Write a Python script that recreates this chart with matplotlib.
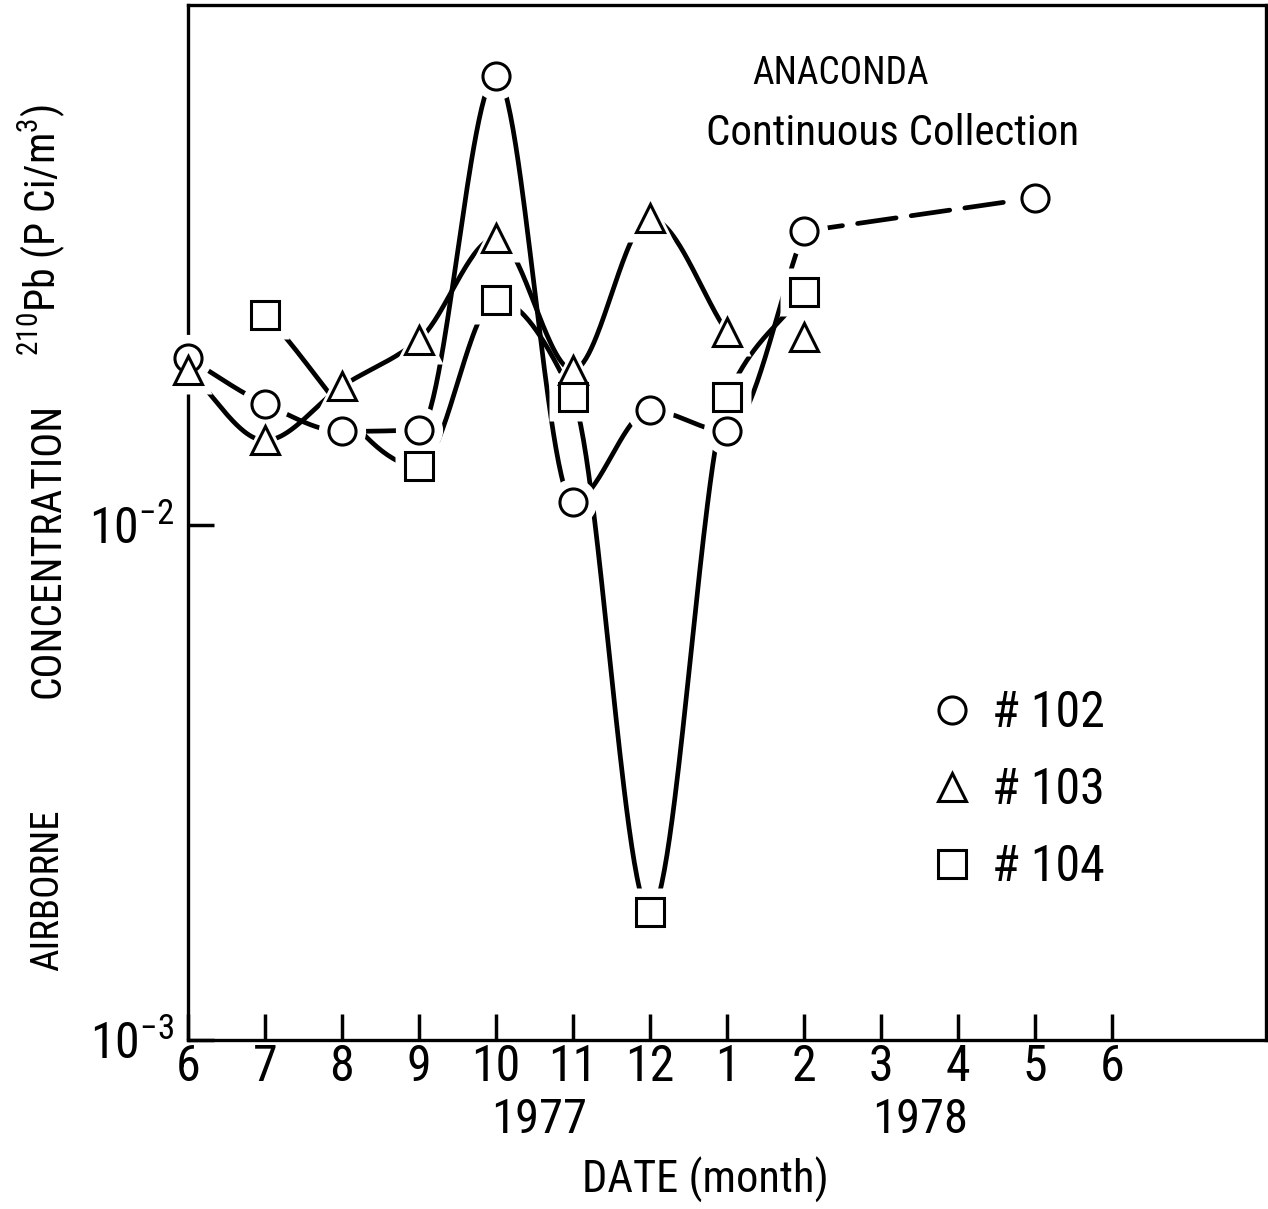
import matplotlib
matplotlib.use("Agg")
import matplotlib.pyplot as plt
from matplotlib import font_manager
from matplotlib.lines import Line2D
from matplotlib.ticker import FixedLocator, NullLocator
import numpy as np

# month index: 0 = June 1977 ... 12 = June 1978
MONTH_TICKS = list(range(13))
MONTH_LABELS = ["6", "7", "8", "9", "10", "11", "12", "1", "2", "3", "4", "5", "6"]

# station #102 (circles), solid part then dashed extension
S102_X = [0, 1, 2, 3, 4, 5, 6, 7, 8]
S102_Y = [0.0211, 0.0172, 0.0152, 0.0153, 0.0745, 0.0111, 0.0167, 0.0152, 0.0372]
S102_DASH_X = [8, 11]
S102_DASH_Y = [0.0372, 0.0432]

# station #103 (triangles); last point has no connecting line
S103_X = [0, 1, 2, 3, 4, 5, 6, 7]
S103_Y = [0.0200, 0.0146, 0.0186, 0.0229, 0.0361, 0.0200, 0.0394, 0.0237]
S103_LONE_X = [8]
S103_LONE_Y = [0.0232]

# station #104 (squares)
S104_X = [1, 3, 4, 5, 6, 7, 8]
S104_Y = [0.0256, 0.0130, 0.0274, 0.0177, 0.00177, 0.0177, 0.0283]

available = {f.name for f in font_manager.fontManager.ttflist}
FONT = next(f for f in ["Roboto Condensed", "Liberation Sans Narrow", "Roboto",
                        "DejaVu Sans"] if f in available)
plt.rcParams["font.family"] = [FONT, "DejaVu Sans"]
plt.rcParams["mathtext.fontset"] = "custom"
plt.rcParams["mathtext.rm"] = FONT
plt.rcParams["mathtext.default"] = "regular"
plt.rcParams["lines.scale_dashes"] = False

LW = 3.4
MS = 19.5
MEW = 2.2
HALO = 34


def smooth(xs, ys, n=60):
    """Monotone cubic (PCHIP-style) curve through the points, in (x, log10 y)."""
    x = np.asarray(xs, dtype=float)
    ly = np.log10(np.asarray(ys, dtype=float))
    h = np.diff(x)
    d = np.diff(ly) / h
    m = np.zeros_like(ly)
    for k in range(1, len(x) - 1):
        if d[k - 1] * d[k] > 0:
            w1 = 2 * h[k] + h[k - 1]
            w2 = h[k] + 2 * h[k - 1]
            m[k] = (w1 + w2) / (w1 / d[k - 1] + w2 / d[k])
    m[0] = d[0]
    m[-1] = d[-1]
    t = np.linspace(0, 1, n)
    h00 = 2 * t**3 - 3 * t**2 + 1
    h10 = t**3 - 2 * t**2 + t
    h01 = -2 * t**3 + 3 * t**2
    h11 = t**3 - t**2
    xo, yo = [], []
    for i in range(len(x) - 1):
        xo.append(x[i] + t * h[i])
        yo.append(h00 * ly[i] + h10 * h[i] * m[i] + h01 * ly[i + 1] + h11 * h[i] * m[i + 1])
    return np.concatenate(xo), 10 ** np.concatenate(yo)


fig = plt.figure(figsize=(12.68, 12.09), dpi=100)
ax = fig.add_axes([188 / 1268, 1 - 1040 / 1209, 1078 / 1268, 1035 / 1209])

# curves
for xs, ys in [(S102_X, S102_Y), (S103_X, S103_Y), (S104_X, S104_Y)]:
    cx, cy = smooth(xs, ys)
    ax.plot(cx, cy, color="black", lw=LW, solid_capstyle="round", zorder=2)
ax.plot(S102_DASH_X, S102_DASH_Y, color="black", lw=LW, dashes=(28, 11),
        dash_capstyle="round", zorder=2)

# markers with a white halo so lines stop short of them
series = [
    (S102_X + S102_DASH_X[1:], S102_Y + S102_DASH_Y[1:], "o", MS),
    (S103_X + S103_LONE_X, S103_Y + S103_LONE_Y, "^", MS + 1),
    (S104_X, S104_Y, "s", MS),
]
for xs, ys, mk, ms in series:
    ax.plot(xs, ys, ls="none", marker=mk, ms=HALO, mfc="white", mec="none",
            zorder=3, clip_on=False)
for xs, ys, mk, ms in series:
    ax.plot(xs, ys, ls="none", marker=mk, ms=ms, mfc="white", mec="black",
            mew=MEW, zorder=4, clip_on=False)

ax.set_yscale("log")
ax.set_xlim(0, 14)
ax.set_ylim(1e-3, 1.023e-1)

ax.xaxis.set_major_locator(FixedLocator(MONTH_TICKS))
ax.set_xticklabels(MONTH_LABELS)
ax.yaxis.set_major_locator(FixedLocator([1e-3, 1e-2]))
ax.yaxis.set_minor_locator(NullLocator())
ax.set_yticklabels(["$10^{-3}$", "$10^{-2}$"])

ax.tick_params(axis="both", direction="in", length=19, width=2.5, top=False,
               right=False, labelsize=36)
ax.tick_params(axis="x", pad=2)
ax.tick_params(axis="y", pad=10)

for sp in ax.spines.values():
    sp.set_linewidth(2.4)

ax.text(0.605, 0.934, "ANACONDA", transform=ax.transAxes, ha="center",
        va="center", fontsize=27)
ax.text(0.654, 0.876, "Continuous Collection", transform=ax.transAxes,
        ha="center", va="center", fontsize=31)

handles = [
    Line2D([], [], ls="none", marker="o", ms=MS, mfc="white", mec="black", mew=MEW),
    Line2D([], [], ls="none", marker="^", ms=MS + 1, mfc="white", mec="black", mew=MEW),
    Line2D([], [], ls="none", marker="s", ms=MS, mfc="white", mec="black", mew=MEW),
]
ax.legend(handles, ["# 102", "# 103", "# 104"], loc="center left",
          bbox_to_anchor=(0.6855, 0.2415), frameon=False, fontsize=36,
          borderpad=0, borderaxespad=0, handlelength=1.0, handletextpad=0.3,
          labelspacing=0.58)

# x-axis year and title
fig.text(539 / 1268, 1 - 1120 / 1209, "1977", ha="center", va="center", fontsize=35)
fig.text(920 / 1268, 1 - 1120 / 1209, "1978", ha="center", va="center", fontsize=35)
fig.text(705 / 1268, 1 - 1180 / 1209, "DATE (month)", ha="center", va="center",
         fontsize=32)

# y-axis label pieces
fig.text(48 / 1268, 1 - 890 / 1209, "AIRBORNE", rotation=90, ha="center",
         va="center", fontsize=28)
fig.text(48 / 1268, 1 - 550 / 1209, "CONCENTRATION", rotation=90, ha="center",
         va="center", fontsize=30)
fig.text(42 / 1268, 1 - 230 / 1209, "$^{210}$Pb (P Ci/m$^{3}$)", rotation=90,
         ha="center", va="center", fontsize=30)

fig.savefig("out.png", dpi=100, facecolor="white")
